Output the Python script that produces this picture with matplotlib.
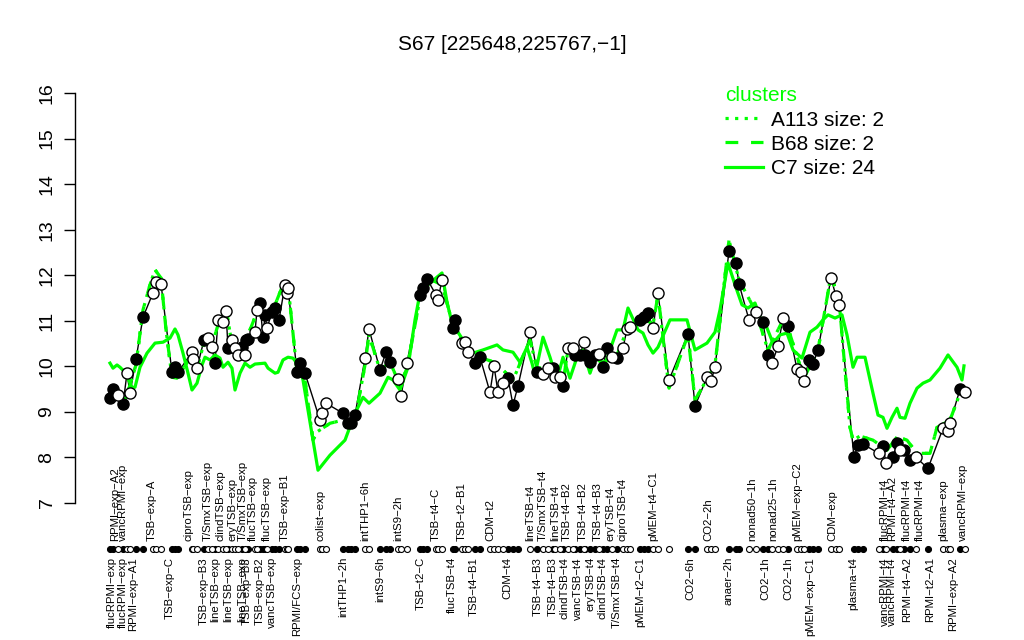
import matplotlib
matplotlib.use("Agg")
import matplotlib.pyplot as plt
import matplotlib.transforms as mtransforms
from matplotlib.lines import Line2D

plt.rcParams['font.family'] = ['Liberation Sans', 'DejaVu Sans']

GREEN = "#00FF00"

# condition positions along the x axis, measured values and fill (1 = filled)
point_pos = [10, 13, 18, 23, 27, 30, 36, 43, 53, 56, 61, 72, 75, 78, 92, 93, 97,
             104, 108, 112, 115, 118, 123, 126, 128, 132, 135, 138, 142, 145, 146, 148,
             155, 157, 160, 163, 165, 167, 172, 175, 179, 185, 187, 188, 197, 200, 205,
             220, 222, 226, 243, 248, 251, 255, 265, 269, 280, 286, 290, 298, 301, 307,
             320, 323, 327, 336, 338, 342, 353, 355, 362, 365, 368, 375, 380,
             390, 394, 398, 403, 408, 413, 418, 430, 437, 443, 448, 453, 455, 460, 463,
             468, 473, 475, 480, 484, 485, 490, 495, 499, 503, 507, 512, 517,
             523, 527, 530, 540, 544, 548, 553, 558, 569, 588, 595, 607, 611, 615,
             629, 636, 639, 649, 656, 663, 668, 672, 678, 683, 688, 697, 701, 704,
             709, 713, 718, 731, 736, 739, 754, 758, 763, 779, 783, 786, 793, 797,
             800, 804, 810, 816, 828, 843, 848, 850, 860, 865]
point_val = [9.30, 9.50, 9.37, 9.17, 9.85, 9.41, 10.16, 11.08, 11.61, 11.85, 11.81,
             9.87, 9.98, 9.87, 10.31, 10.16, 9.96,
             10.58, 10.62, 10.42, 10.07, 11.02, 10.97, 11.21, 10.40, 10.58, 10.40, 10.25,
             10.42, 10.25, 10.58, 10.60,
             10.75, 11.24, 11.39, 10.64, 11.13, 10.84, 11.19, 11.28, 11.02, 11.79, 11.61,
             11.72, 9.87, 10.07, 9.85,
             8.82, 8.97, 9.19, 8.97, 8.75, 8.75, 8.93, 10.18, 10.82, 9.92, 10.31, 10.09,
             9.72, 9.35, 10.07,
             11.57, 11.72, 11.92, 11.57, 11.46, 11.90, 10.84, 11.02, 10.51, 10.53, 10.31,
             10.07, 10.20,
             9.43, 10.01, 9.43, 9.63, 9.74, 9.15, 9.57, 10.75, 9.87, 9.83, 9.96, 9.96,
             9.76, 9.76, 9.57,
             10.40, 10.40, 10.25, 10.25, 10.53, 10.25, 10.09, 10.25, 10.27, 9.98, 10.40,
             10.20, 10.18,
             10.40, 10.82, 10.86, 11.02, 11.08, 11.17, 10.84, 11.61, 9.70, 10.71, 9.13,
             9.76, 9.68, 9.98,
             12.53, 12.27, 11.81, 11.02, 11.19, 10.97, 10.25, 10.07, 10.44, 11.06, 10.88,
             9.94, 9.87, 9.68,
             10.14, 10.05, 10.36, 11.94, 11.54, 11.35, 8.00, 8.27, 8.29, 8.09, 8.25, 7.87,
             8.00, 8.31,
             8.16, 8.16, 7.94, 8.00, 7.76, 8.64, 8.58, 8.75, 9.50, 9.43]
point_fill = [1, 1, 0, 1, 0, 0, 1, 1, 0, 0, 0, 1, 1, 1, 0, 0, 0,
              1, 0, 0, 1, 0, 0, 0, 1, 0, 0, 0, 1, 0, 1, 1,
              0, 0, 1, 1, 1, 0, 1, 1, 1, 0, 0, 0, 1, 1, 1,
              0, 0, 0, 1, 1, 1, 1, 0, 0, 1, 1, 1, 0, 0, 0,
              1, 1, 1, 0, 0, 0, 1, 1, 0, 0, 0, 1, 1,
              0, 0, 0, 0, 1, 1, 1, 0, 1, 0, 0, 1, 0, 0, 1,
              0, 0, 1, 1, 0, 1, 1, 1, 0, 1, 1, 0, 1,
              0, 0, 0, 1, 1, 1, 0, 0, 0, 1, 1, 0, 0, 0,
              1, 1, 1, 0, 0, 1, 1, 0, 0, 0, 1, 0, 0, 0,
              1, 1, 1, 0, 0, 0, 1, 1, 1, 0, 1, 0, 1, 1,
              0, 1, 1, 0, 1, 0, 0, 0, 1, 0]

# cluster C7 (size 24) profile
c7_pos = [10, 13, 17, 20, 25, 32, 35, 40, 47, 55, 63, 70, 75, 78, 83, 88, 92, 97,
          102, 105, 110, 115, 120, 123, 128, 132, 135, 140, 145, 150, 155, 165, 168,
          175, 178, 183, 188, 193, 200, 203, 213, 218, 230, 245, 255, 263, 269, 280,
          288, 293, 300, 308, 315, 320, 330, 342, 347, 352, 363, 373, 383, 397, 403,
          413, 420, 427, 432, 435, 443, 450, 457, 463, 470, 477, 483, 490, 497, 503,
          510, 517, 523, 528, 538, 543, 548, 553, 558, 570, 587, 595, 607, 615, 620,
          628, 635, 642, 648, 655, 660, 667, 673, 680, 687, 693, 702, 710, 717, 723,
          728, 735, 742, 747, 753, 757, 765, 773, 778, 783, 787, 792, 797, 800, 805,
          810, 817, 823, 830, 840, 848, 857, 862, 864]
c7_val = [10.07, 9.96, 10.03, 9.98, 9.87, 9.54, 9.54, 9.98, 10.29, 10.51, 10.53,
          10.62, 10.82, 10.69, 10.29, 9.85, 9.48, 9.63, 10.03, 10.20, 10.14, 10.25,
          10.18, 9.98, 10.09, 9.96, 9.48, 9.85, 10.07, 9.98, 10.05, 10.07, 9.96, 9.85,
          9.87, 10.14, 10.20, 10.18, 9.98, 9.70, 8.38, 7.72, 8.05, 8.38, 8.97, 9.32,
          9.19, 9.41, 9.76, 9.70, 9.48, 9.98, 11.02, 11.61, 11.83, 12.05, 11.41, 10.95,
          10.58, 10.29, 10.36, 10.47, 10.36, 10.31, 10.09, 10.42, 10.07, 9.81, 10.64,
          10.20, 9.70, 10.20, 9.74, 10.20, 10.36, 9.85, 10.29, 9.92, 10.36, 10.80,
          10.80, 11.28, 10.80, 10.73, 10.47, 10.29, 10.42, 11.02, 11.02, 10.36, 10.51,
          10.75, 11.24, 12.27, 11.79, 11.35, 11.28, 11.39, 11.08, 10.84, 10.51, 10.69,
          10.73, 10.36, 10.18, 10.75, 10.86, 11.02, 11.13, 11.06, 11.13, 10.69, 9.98,
          10.20, 10.20, 9.41, 8.93, 8.88, 8.64, 8.88, 9.08, 8.88, 8.86, 9.19, 9.52,
          9.63, 9.70, 9.96, 10.25, 9.98, 9.70, 10.01]

# cluster B68 (size 2) profile; A113 (size 2) runs underneath it
b68_pos = [10, 18, 25, 30, 36, 43, 50, 55, 61, 66, 72, 77, 92, 97, 104, 112, 118,
           126, 132, 138, 146, 157, 165, 175, 185, 188, 197, 205, 213, 217, 230, 243,
           255, 265, 269, 280, 290, 300, 307, 320, 327, 342, 353, 368, 380, 394, 403,
           413, 430, 437, 453, 463, 468, 485, 503, 517, 527, 544, 553, 558, 569, 588,
           595, 615, 629, 639, 656, 668, 683, 688, 704, 718, 731, 739, 750, 753, 760,
           773, 787, 797, 807, 817, 830, 837, 850, 860, 863]
b68_val = [9.37, 9.43, 9.26, 9.59, 10.03, 11.24, 11.79, 12.12, 11.94, 10.80, 9.76,
           9.74, 10.25, 9.96, 10.51, 10.47, 10.91, 11.28, 10.47, 10.25, 10.58, 11.19,
           11.06, 11.35, 11.90, 11.79, 9.87, 9.70, 8.38, 8.56, 8.75, 8.82, 8.82, 10.03,
           10.69, 9.92, 10.09, 9.59, 9.96, 11.50, 11.94, 11.79, 10.91, 10.36, 10.20,
           10.09, 9.92, 9.70, 10.58, 9.96, 9.96, 9.65, 10.36, 10.31, 10.09, 10.25,
           10.80, 11.08, 10.91, 11.57, 9.52, 10.69, 9.26, 10.03, 12.77, 11.90, 11.19,
           10.36, 11.02, 10.84, 9.74, 10.36, 12.00, 11.46, 8.66, 8.38, 8.47, 8.38,
           8.16, 8.45, 8.38, 8.09, 8.09, 8.66, 8.82, 9.41, 9.54]
a113_pos = b68_pos
a113_val = b68_val

# condition labels above / below the strip of dots
top_pos = [15, 23, 52, 89, 108, 120, 132, 143, 153, 167, 185,
           221, 265, 298, 336, 362, 390,
           430, 443, 455, 467, 483, 498, 511, 523, 553, 608,
           652, 673, 697, 732, 785, 792, 807, 820, 843, 863]
top_lab = ["RPMI\u2212exp\u2212A2", "vancRPMI\u2212exp", "TSB\u2212exp\u2212A",
           "ciproTSB\u2212exp", "T/SmxTSB\u2212exp", "clindTSB\u2212exp",
           "eryTSB\u2212exp", "T/SmxTSB\u2212exp", "flucTSB\u2212exp",
           "flucTSB\u2212exp", "TSB\u2212exp\u2212B1",
           "colist\u2212exp", "intTHP1\u22126h", "intS9\u22122h", "TSB\u2212t4\u2212C",
           "TSB\u2212t2\u2212B1", "CDM\u2212t2",
           "lineTSB\u2212t4", "T/SmxTSB\u2212t4", "lineTSB\u2212t4", "TSB\u2212t4\u2212B2",
           "TSB\u2212t4\u2212B2", "TSB\u2212t4\u2212B3", "eryTSB\u2212t4",
           "ciproTSB\u2212t4", "pMEM\u2212t4\u2212C1", "CO2\u22122h",
           "nonad50\u22121h", "nonad25\u22121h", "pMEM\u2212exp\u2212C2", "CDM\u2212exp",
           "flucRPMI\u2212t4", "RPMI\u2212t4\u2212A2", "flucRPMI\u2212t4",
           "flucRPMI\u2212t4", "plasma\u2212exp", "vancRPMI\u2212exp"]
bot_pos = [12, 23, 33, 70, 104, 115, 128, 142, 147, 160, 172, 197,
           243, 280, 321, 352, 374, 407,
           438, 453, 465, 478, 490, 503, 517, 540, 590,
           628, 665, 688, 710, 753, 785, 792, 807, 830, 853]
bot_lab = ["flucRPMI\u2212exp", "flucRPMI\u2212exp", "RPMI\u2212exp\u2212A1",
           "TSB\u2212exp\u2212C", "TSB\u2212exp\u2212B3", "lineTSB\u2212exp",
           "lineTSB\u2212exp", "lineTSB\u2212exp", "TSB\u2212exp\u2212B3",
           "TSB\u2212exp\u2212B2", "vancTSB\u2212exp", "RPMI/FCS\u2212exp",
           "intTHP1\u22122h", "intS9\u22126h", "TSB\u2212t2\u2212C", "flucTSB\u2212t4",
           "TSB\u2212t4\u2212B1", "CDM\u2212t4",
           "TSB\u2212t4\u2212B3", "TSB\u2212t4\u2212B3", "clindTSB\u2212t4",
           "vancTSB\u2212t4", "eryTSB\u2212t4", "clindTSB\u2212t4", "T/SmxTSB\u2212t4",
           "pMEM\u2212t2\u2212C1", "CO2\u22126h",
           "anaer\u22122h", "CO2\u22121h", "CO2\u22121h", "pMEM\u2212exp\u2212C1",
           "plasma\u2212t4", "vancRPMI\u2212t4", "vancRPMI\u2212t4", "RPMI\u2212t4\u2212A2",
           "RPMI\u2212t2\u2212A1", "RPMI\u2212exp\u2212A2"]

fig = plt.figure(figsize=(10.24, 6.4), dpi=100)
ax = fig.add_axes([75 / 1024, 137 / 640, 910 / 1024, 410 / 640])
ax.set_xlim(-25, 885)
ax.set_ylim(7, 16)

ax.plot(point_pos, point_val, color="black", lw=1.0, zorder=2)
ax.plot(a113_pos, a113_val, color=GREEN, lw=2.3, linestyle=(0, (1, 2)), zorder=3)
ax.plot(b68_pos, b68_val, color=GREEN, lw=2.3, linestyle=(0, (4, 4)), zorder=3)
ax.plot(c7_pos, c7_val, color=GREEN, lw=2.3, zorder=3)

filled_x = [p for p, f in zip(point_pos, point_fill) if f]
filled_y = [v for v, f in zip(point_val, point_fill) if f]
open_x = [p for p, f in zip(point_pos, point_fill) if not f]
open_y = [v for v, f in zip(point_val, point_fill) if not f]
ax.plot(filled_x, filled_y, "o", ms=8, mfc="black", mec="black", mew=1, zorder=4)
ax.plot(open_x, open_y, "o", ms=8, mfc="white", mec="black", mew=1, zorder=4)

# strip of dots under the plot
trans = mtransforms.blended_transform_factory(ax.transData, ax.transAxes)
ax.plot(filled_x, [-0.112] * len(filled_x), "o", ms=4.3, mfc="black", mec="black",
        mew=0.8, transform=trans, clip_on=False)
ax.plot(open_x, [-0.112] * len(open_x), "o", ms=4.3, mfc="white", mec="black",
        mew=0.8, transform=trans, clip_on=False)

for p, lab in zip(top_pos, top_lab):
    ax.text(p, -0.093, lab, rotation=90, ha="center", va="bottom", fontsize=8.2,
            transform=trans, clip_on=False)
for p, lab in zip(bot_pos, bot_lab):
    ax.text(p, -0.132, lab, rotation=90, ha="center", va="top", fontsize=8.2,
            transform=trans, clip_on=False)

for side in ["top", "right", "bottom"]:
    ax.spines[side].set_visible(False)
ax.spines["left"].set_linewidth(1)
ax.set_xticks([])
ax.set_yticks(range(7, 17))
ax.tick_params(axis="y", length=8, width=1, labelsize=14, pad=6)
for t in ax.get_yticklabels():
    t.set_rotation(90)
    t.set_va("center")

fig.text(0.5, 1 - 45 / 640, "S67 [225648,225767,\u22121]", ha="center", va="center",
         fontsize=15)

handles = [Line2D([], [], color=GREEN, lw=2.3, linestyle=(0, (1, 2))),
           Line2D([], [], color=GREEN, lw=2.3, linestyle=(0, (4, 4))),
           Line2D([], [], color=GREEN, lw=2.3)]
leg = ax.legend(handles, ["A113 size: 2", "B68 size: 2", "C7 size: 24"],
                title="clusters", loc="upper left", frameon=False, fontsize=15,
                title_fontsize=15, alignment="left", handlelength=1.8,
                handletextpad=0.4, borderaxespad=0, labelspacing=0.25,
                bbox_to_anchor=(717 / 1024, 1 - 78 / 640), bbox_transform=fig.transFigure)
leg.get_title().set_color(GREEN)

fig.savefig("out.png", dpi=100)
